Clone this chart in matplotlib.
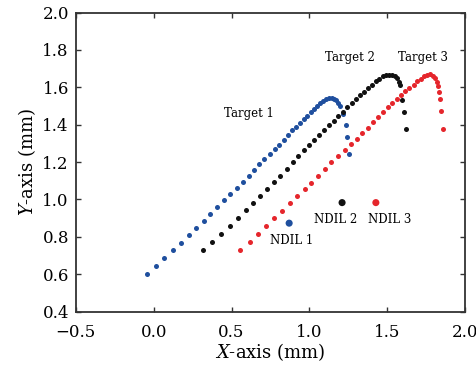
import matplotlib
matplotlib.use('Agg')
import matplotlib.pyplot as plt

plt.rcParams['font.family'] = 'DejaVu Serif'
plt.rcParams['mathtext.fontset'] = 'dejavuserif'

# trajectory points (mm)
blue_x = [-0.045, 0.013, 0.069, 0.123, 0.177, 0.228, 0.274, 0.321, 0.364, 0.409,
          0.451, 0.492, 0.532, 0.571, 0.609, 0.644, 0.677, 0.711, 0.744, 0.776,
          0.805, 0.835, 0.863, 0.890, 0.916, 0.940, 0.964, 0.987, 1.009, 1.030,
          1.051, 1.070, 1.089, 1.109, 1.127, 1.144, 1.160, 1.174, 1.186, 1.194,
          1.215, 1.234, 1.244, 1.254]
blue_y = [0.599, 0.643, 0.686, 0.728, 0.768, 0.809, 0.848, 0.886, 0.922, 0.960,
          0.995, 1.029, 1.063, 1.095, 1.127, 1.158, 1.188, 1.217, 1.243, 1.268,
          1.293, 1.318, 1.343, 1.369, 1.390, 1.411, 1.430, 1.449, 1.467, 1.484,
          1.500, 1.514, 1.527, 1.536, 1.542, 1.543, 1.540, 1.531, 1.517, 1.500,
          1.455, 1.401, 1.336, 1.244]

black_x = [0.318, 0.377, 0.434, 0.487, 0.539, 0.591, 0.638, 0.681, 0.726, 0.770,
           0.813, 0.855, 0.892, 0.929, 0.964, 0.998, 1.030, 1.064, 1.096, 1.127,
           1.157, 1.186, 1.215, 1.244, 1.272, 1.300, 1.327, 1.353, 1.379, 1.403,
           1.427, 1.449, 1.470, 1.491, 1.510, 1.530, 1.547, 1.562, 1.573, 1.581,
           1.598, 1.610, 1.621]
black_y = [0.730, 0.774, 0.817, 0.858, 0.899, 0.941, 0.980, 1.016, 1.056, 1.094,
           1.128, 1.163, 1.198, 1.230, 1.262, 1.291, 1.318, 1.345, 1.372, 1.396,
           1.421, 1.445, 1.469, 1.492, 1.514, 1.536, 1.557, 1.577, 1.596, 1.615,
           1.632, 1.647, 1.658, 1.666, 1.668, 1.667, 1.660, 1.648, 1.631, 1.610,
           1.532, 1.468, 1.377]

red_x = [0.557, 0.617, 0.670, 0.724, 0.773, 0.825, 0.874, 0.922, 0.969, 1.011,
         1.056, 1.099, 1.142, 1.186, 1.228, 1.266, 1.305, 1.340, 1.374, 1.407,
         1.440, 1.472, 1.504, 1.533, 1.562, 1.589, 1.616, 1.643, 1.669, 1.692,
         1.714, 1.735, 1.756, 1.776, 1.793, 1.808, 1.819, 1.825, 1.832, 1.838,
         1.846, 1.861]
red_y = [0.730, 0.774, 0.817, 0.859, 0.900, 0.940, 0.980, 1.017, 1.055, 1.090,
         1.128, 1.165, 1.199, 1.233, 1.263, 1.294, 1.324, 1.353, 1.382, 1.412,
         1.441, 1.466, 1.492, 1.514, 1.537, 1.559, 1.578, 1.596, 1.615, 1.632,
         1.647, 1.660, 1.668, 1.669, 1.663, 1.650, 1.631, 1.607, 1.576, 1.535,
         1.473, 1.379]

# NDIL points
ndil_x = [0.87, 1.21, 1.427]
ndil_y = [0.873, 0.983, 0.983]
ndil_labels = ['NDIL 1', 'NDIL 2', 'NDIL 3']
ndil_text_xy = [(0.887, 0.78), (1.17, 0.894), (1.517, 0.894)]

target_labels = ['Target 1', 'Target 2', 'Target 3']
target_text_xy = [(0.611, 1.462), (1.263, 1.757), (1.729, 1.762)]

blue = '#1f4f9e'
red = '#e5262c'
black = '#111111'
colors = [blue, black, red]

fig = plt.figure(figsize=(4.77, 3.70), dpi=100)
ax = fig.add_axes([0.159, 0.158, 0.816, 0.808])

ax.scatter(blue_x, blue_y, s=13, color=blue, linewidths=0, zorder=3)
ax.scatter(black_x, black_y, s=13, color=black, linewidths=0, zorder=3)
ax.scatter(red_x, red_y, s=13, color=red, linewidths=0, zorder=3)
ax.scatter(ndil_x, ndil_y, s=26, color=colors, linewidths=0, zorder=3)

for lab, (tx, ty) in zip(ndil_labels, ndil_text_xy):
    ax.text(tx, ty, lab, fontsize=8.5, ha='center', va='center')
for lab, (tx, ty) in zip(target_labels, target_text_xy):
    ax.text(tx, ty, lab, fontsize=8.5, ha='center', va='center')

ax.set_xlim(-0.5, 2.0)
ax.set_ylim(0.4, 2.0)
ax.set_xticks([-0.5, 0.0, 0.5, 1.0, 1.5, 2.0])
ax.set_yticks([0.4, 0.6, 0.8, 1.0, 1.2, 1.4, 1.6, 1.8, 2.0])
ax.tick_params(direction='in', top=True, right=True, length=3.5, width=1,
               color='#333333', labelsize=12)
ax.tick_params(axis='x', pad=9)
ax.tick_params(axis='y', pad=5)
for sp in ax.spines.values():
    sp.set_linewidth(1.3)
    sp.set_color('#333333')

ax.set_xlabel('$X$-axis (mm)', fontsize=13, labelpad=0)
ax.set_ylabel('$Y$-axis (mm)', fontsize=13, labelpad=3)

fig.savefig('out.png', dpi=100)
